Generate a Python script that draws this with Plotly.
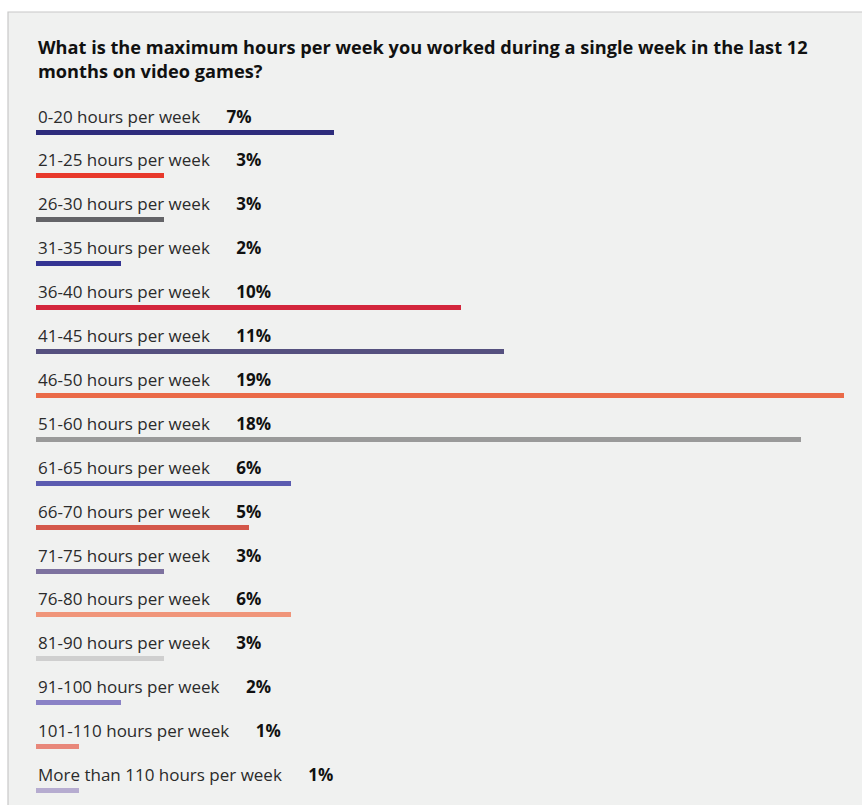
import plotly.graph_objects as go

# Survey answers, top to bottom
categories = [
    "0-20 hours per week", "21-25 hours per week", "26-30 hours per week",
    "31-35 hours per week", "36-40 hours per week", "41-45 hours per week",
    "46-50 hours per week", "51-60 hours per week", "61-65 hours per week",
    "66-70 hours per week", "71-75 hours per week", "76-80 hours per week",
    "81-90 hours per week", "91-100 hours per week", "101-110 hours per week",
    "More than 110 hours per week",
]
percentages = [7, 3, 3, 2, 10, 11, 19, 18, 6, 5, 3, 6, 3, 2, 1, 1]
bar_colors = [
    "#2e2c7c", "#e8392b", "#646468", "#343493", "#d3263c", "#55507f",
    "#ea6a48", "#9a9a9a", "#5b5bb0", "#d4574a", "#7d729f", "#f0957a",
    "#cfcfcf", "#8a82c6", "#e8877a", "#b6acd0",
]
title_text = ("What is the maximum hours per week you worked during a single week in the last 12"
              "<br>months on video games?")

W, H = 862, 805
PX_PER_PCT = 42.5
X0_PX = 36
ROW_PX = 43.9
FIRST_BAR_PX = 132

rows = list(range(len(categories)))

fig = go.Figure()
fig.add_trace(go.Bar(
    x=percentages,
    y=rows,
    orientation="h",
    marker=dict(color=bar_colors, line=dict(width=0)),
    width=5 / ROW_PX,
    hoverinfo="skip",
    showlegend=False,
))

# Category label followed by its bold percentage
label_offset = -16 / ROW_PX
for i, (cat, pct) in enumerate(zip(categories, percentages)):
    fig.add_annotation(
        x=0, y=i + label_offset, xref="x", yref="y",
        text=(f"{cat}" + "&nbsp;" * 6
              + f"<b><span style='color:#111;font-size:17px'>{pct}%</span></b>"),
        showarrow=False, xanchor="left", yanchor="middle",
        font=dict(family="Open Sans", size=17, color="#2b2b2b"),
    )

# Title
fig.add_annotation(
    x=X0_PX / W, y=1 - 33 / H, xref="paper", yref="paper",
    text=f"<b>{title_text}</b>", showarrow=False,
    xanchor="left", yanchor="top", align="left",
    font=dict(family="Open Sans", size=18.2, color="#111111"),
)

# Light panel behind the chart
fig.add_shape(
    type="rect", xref="paper", yref="paper",
    x0=8 / W, x1=1.01, y0=-0.01, y1=1 - 12 / H,
    fillcolor="#f0f1f0", line=dict(color="#c8c8c8", width=1.2), layer="below",
)

fig.update_layout(
    width=W, height=H,
    margin=dict(l=0, r=0, t=0, b=0),
    paper_bgcolor="white", plot_bgcolor="rgba(0,0,0,0)",
    xaxis=dict(range=[-X0_PX / PX_PER_PCT, (W - X0_PX) / PX_PER_PCT],
               visible=False, fixedrange=True),
    yaxis=dict(range=[(H - FIRST_BAR_PX) / ROW_PX, -FIRST_BAR_PX / ROW_PX],
               visible=False, fixedrange=True),
    bargap=0,
)

fig.write_html("out.html", config={"displayModeBar": False})
